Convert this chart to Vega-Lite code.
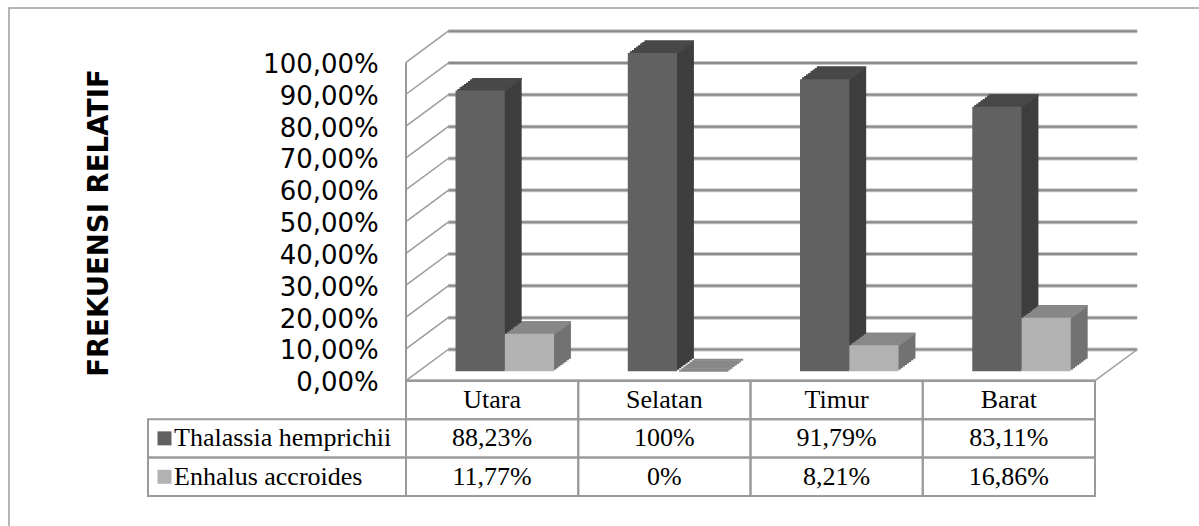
{
  "$schema": "https://vega.github.io/schema/vega-lite/v6.json",
  "width": 1190,
  "height": 518,
  "autosize": {"type": "none"},
  "padding": {"left": 9, "top": 8, "right": 0, "bottom": 0},
  "background": "#ffffff",
  "config": {
    "view": {"stroke": "#9d9d9d", "strokeWidth": 1.5, "strokeDash": [1190, 1708, 600]},
    "locale": {"number": {"decimal": ",", "thousands": ".", "grouping": [3], "currency": ["Rp", ""]}}
  },
  "datasets": {
    "frekuensi": [
      {"lokasi": "Utara", "spesies": "Thalassia hemprichii", "nilai": 0.8823},
      {"lokasi": "Selatan", "spesies": "Thalassia hemprichii", "nilai": 1.0},
      {"lokasi": "Timur", "spesies": "Thalassia hemprichii", "nilai": 0.9179},
      {"lokasi": "Barat", "spesies": "Thalassia hemprichii", "nilai": 0.8311},
      {"lokasi": "Utara", "spesies": "Enhalus accroides", "nilai": 0.1177},
      {"lokasi": "Selatan", "spesies": "Enhalus accroides", "nilai": 0.0},
      {"lokasi": "Timur", "spesies": "Enhalus accroides", "nilai": 0.0821},
      {"lokasi": "Barat", "spesies": "Enhalus accroides", "nilai": 0.1686}
    ],
    "skala": [
      {"v": 0}, {"v": 0.1}, {"v": 0.2}, {"v": 0.3}, {"v": 0.4}, {"v": 0.5},
      {"v": 0.6}, {"v": 0.7}, {"v": 0.8}, {"v": 0.9}, {"v": 1}
    ]
  },
  "data": {"name": "frekuensi"},
  "layer": [
    {
      "data": {"name": "skala"},
      "layer": [
        {
          "mark": {"type": "rule", "color": "#c6c6c6", "strokeWidth": 4, "xOffset": 42.2, "x2Offset": 42.2, "yOffset": -31.2},
          "encoding": {
            "x": {"datum": 0, "type": "quantitative", "scale": {"domain": [0, 1], "range": [397, 1086]}, "axis": null},
            "x2": {"datum": 1},
            "y": {
              "field": "v", "type": "quantitative",
              "scale": {"domain": [0, 1], "range": [372.7, 54.4]},
              "axis": {
                "orient": "left",
                "values": [0, 0.1, 0.2, 0.3, 0.4, 0.5, 0.6, 0.7, 0.8, 0.9, 1],
                "format": ".2%",
                "domain": false, "ticks": false, "tickSize": 0, "grid": false,
                "labelPadding": 0, "offset": -369.3,
                "labelFont": "DejaVu Sans", "labelFontSize": 26, "labelColor": "#000000",
                "labelOffset": 2, "labelOverlap": false, "labelBound": false, "labelFlush": false,
                "title": "FREKUENSI RELATIF",
                "titleFont": "DejaVu Sans", "titleFontSize": 27.5, "titleFontWeight": "bold", "titleColor": "#000000",
                "titleAngle": 270, "titleAlign": "center", "titleBaseline": "middle",
                "titleX": -279.3, "titleY": 214.5
              }
            }
          }
        },
        {
          "mark": {"type": "rule", "color": "#8a8a8a", "strokeWidth": 2, "xOffset": 42.2, "x2Offset": 42.2, "yOffset": -31.2},
          "encoding": {
            "x": {"datum": 0, "type": "quantitative", "scale": {"domain": [0, 1], "range": [397, 1086]}, "axis": null},
            "x2": {"datum": 1},
            "y": {"field": "v", "type": "quantitative", "scale": {"domain": [0, 1], "range": [372.7, 54.4]}}
          }
        },
        {
          "mark": {"type": "rule", "color": "#9c9c9c", "strokeWidth": 1.5, "x2Offset": 42.2, "y2Offset": -31.2},
          "encoding": {
            "x": {"datum": 0, "type": "quantitative", "scale": {"domain": [0, 1], "range": [397, 1086]}, "axis": null},
            "x2": {"datum": 0},
            "y": {"field": "v", "type": "quantitative", "scale": {"domain": [0, 1], "range": [372.7, 54.4]}},
            "y2": {"field": "v"}
          }
        },
        {
          "data": {"values": [{}]},
          "mark": {"type": "rule", "color": "#999999", "strokeWidth": 2},
          "encoding": {
            "x": {"datum": 0, "type": "quantitative", "scale": {"domain": [0, 1], "range": [397, 1086]}, "axis": null},
            "y": {"datum": 0, "type": "quantitative", "scale": {"domain": [0, 1], "range": [372.7, 54.4]}},
            "y2": {"datum": 1}
          }
        },
        {
          "data": {"values": [{}]},
          "mark": {"type": "rule", "color": "#949494", "strokeWidth": 2.5},
          "encoding": {
            "x": {"datum": 0, "type": "quantitative", "scale": {"domain": [0, 1], "range": [397, 1086]}, "axis": null},
            "x2": {"datum": 1},
            "y": {"datum": 0, "type": "quantitative", "scale": {"domain": [0, 1], "range": [372.7, 54.4]}}
          }
        },
        {
          "data": {"values": [{}]},
          "mark": {"type": "rule", "color": "#9c9c9c", "strokeWidth": 1.5, "x2Offset": 42.2, "y2Offset": -31.2},
          "encoding": {
            "x": {"datum": 1, "type": "quantitative", "scale": {"domain": [0, 1], "range": [397, 1086]}, "axis": null},
            "x2": {"datum": 1},
            "y": {"datum": 0, "type": "quantitative", "scale": {"domain": [0, 1], "range": [372.7, 54.4]}},
            "y2": {"datum": 0}
          }
        }
      ]
    },
    {
      "encoding": {
        "x": {
          "field": "lokasi", "type": "nominal",
          "scale": {"domain": ["Utara", "Selatan", "Timur", "Barat"], "range": [397, 1086], "paddingInner": 0.714, "paddingOuter": 0.357},
          "axis": null
        },
        "y": {"field": "nilai", "type": "quantitative", "scale": {"domain": [0, 1], "range": [372.7, 54.4]}, "axis": null}
      },
      "layer": [
        {
          "transform": [{"filter": "datum.spesies === 'Thalassia hemprichii'"}],
          "layer": [
            {"mark": {"type": "bar", "color": "#3e3e3e", "xOffset": 4.91, "yOffset": -21.91, "y2Offset": -21.91}},
            {"mark": {"type": "bar", "color": "#3e3e3e", "xOffset": 2.8, "yOffset": -20.345, "y2Offset": -20.345}},
            {"mark": {"type": "bar", "color": "#3e3e3e", "xOffset": 0.69, "yOffset": -18.78, "y2Offset": -18.78}},
            {"mark": {"type": "bar", "color": "#3e3e3e", "xOffset": -1.42, "yOffset": -17.215, "y2Offset": -17.215}},
            {"mark": {"type": "bar", "color": "#3e3e3e", "xOffset": -3.53, "yOffset": -15.65, "y2Offset": -15.65}},
            {"mark": {"type": "bar", "color": "#3e3e3e", "xOffset": -5.64, "yOffset": -14.085, "y2Offset": -14.085}},
            {"mark": {"type": "bar", "color": "#3e3e3e", "xOffset": -7.75, "yOffset": -12.52, "y2Offset": -12.52}},
            {"mark": {"type": "bar", "color": "#3e3e3e", "xOffset": -9.86, "yOffset": -10.955, "y2Offset": -10.955}},
            {"mark": {"type": "bar", "color": "#484848", "xOffset": 4.91, "yOffset": -21.91, "y2Offset": -19.845}, "encoding": {"y2": {"field": "nilai"}}},
            {"mark": {"type": "bar", "color": "#484848", "xOffset": 2.8, "yOffset": -20.345, "y2Offset": -18.28}, "encoding": {"y2": {"field": "nilai"}}},
            {"mark": {"type": "bar", "color": "#484848", "xOffset": 0.69, "yOffset": -18.78, "y2Offset": -16.715}, "encoding": {"y2": {"field": "nilai"}}},
            {"mark": {"type": "bar", "color": "#484848", "xOffset": -1.42, "yOffset": -17.215, "y2Offset": -15.15}, "encoding": {"y2": {"field": "nilai"}}},
            {"mark": {"type": "bar", "color": "#484848", "xOffset": -3.53, "yOffset": -15.65, "y2Offset": -13.585}, "encoding": {"y2": {"field": "nilai"}}},
            {"mark": {"type": "bar", "color": "#484848", "xOffset": -5.64, "yOffset": -14.085, "y2Offset": -12.02}, "encoding": {"y2": {"field": "nilai"}}},
            {"mark": {"type": "bar", "color": "#484848", "xOffset": -7.75, "yOffset": -12.52, "y2Offset": -10.455}, "encoding": {"y2": {"field": "nilai"}}},
            {"mark": {"type": "bar", "color": "#484848", "xOffset": -9.86, "yOffset": -10.955, "y2Offset": -8.89}, "encoding": {"y2": {"field": "nilai"}}}
          ]
        },
        {
          "transform": [{"filter": "datum.spesies === 'Enhalus accroides'"}],
          "layer": [
            {"mark": {"type": "bar", "color": "#727272", "xOffset": 54.17, "yOffset": -21.91, "y2Offset": -21.91}},
            {"mark": {"type": "bar", "color": "#727272", "xOffset": 52.06, "yOffset": -20.345, "y2Offset": -20.345}},
            {"mark": {"type": "bar", "color": "#727272", "xOffset": 49.95, "yOffset": -18.78, "y2Offset": -18.78}},
            {"mark": {"type": "bar", "color": "#727272", "xOffset": 47.84, "yOffset": -17.215, "y2Offset": -17.215}},
            {"mark": {"type": "bar", "color": "#727272", "xOffset": 45.73, "yOffset": -15.65, "y2Offset": -15.65}},
            {"mark": {"type": "bar", "color": "#727272", "xOffset": 43.62, "yOffset": -14.085, "y2Offset": -14.085}},
            {"mark": {"type": "bar", "color": "#727272", "xOffset": 41.51, "yOffset": -12.52, "y2Offset": -12.52}},
            {"mark": {"type": "bar", "color": "#727272", "xOffset": 39.4, "yOffset": -10.955, "y2Offset": -10.955}},
            {"mark": {"type": "bar", "color": "#888888", "xOffset": 54.17, "yOffset": -21.91, "y2Offset": -19.845}, "encoding": {"y2": {"field": "nilai"}}},
            {"mark": {"type": "bar", "color": "#888888", "xOffset": 52.06, "yOffset": -20.345, "y2Offset": -18.28}, "encoding": {"y2": {"field": "nilai"}}},
            {"mark": {"type": "bar", "color": "#888888", "xOffset": 49.95, "yOffset": -18.78, "y2Offset": -16.715}, "encoding": {"y2": {"field": "nilai"}}},
            {"mark": {"type": "bar", "color": "#888888", "xOffset": 47.84, "yOffset": -17.215, "y2Offset": -15.15}, "encoding": {"y2": {"field": "nilai"}}},
            {"mark": {"type": "bar", "color": "#888888", "xOffset": 45.73, "yOffset": -15.65, "y2Offset": -13.585}, "encoding": {"y2": {"field": "nilai"}}},
            {"mark": {"type": "bar", "color": "#888888", "xOffset": 43.62, "yOffset": -14.085, "y2Offset": -12.02}, "encoding": {"y2": {"field": "nilai"}}},
            {"mark": {"type": "bar", "color": "#888888", "xOffset": 41.51, "yOffset": -12.52, "y2Offset": -10.455}, "encoding": {"y2": {"field": "nilai"}}},
            {"mark": {"type": "bar", "color": "#888888", "xOffset": 39.4, "yOffset": -10.955, "y2Offset": -8.89}, "encoding": {"y2": {"field": "nilai"}}}
          ]
        },
        {
          "transform": [{"filter": "datum.spesies === 'Thalassia hemprichii'"}],
          "mark": {"type": "bar", "color": "#616161", "xOffset": -11.97, "yOffset": -9.39, "y2Offset": -9.39}
        },
        {
          "transform": [{"filter": "datum.spesies === 'Enhalus accroides'"}],
          "mark": {"type": "bar", "color": "#b2b2b2", "xOffset": 37.29, "yOffset": -9.39, "y2Offset": -9.39}
        }
      ]
    },
    {
      "layer": [
        {
          "encoding": {
            "x": {
              "field": "lokasi", "type": "nominal",
              "scale": {"domain": ["Utara", "Selatan", "Timur", "Barat"], "range": [397, 1086], "paddingInner": 0, "paddingOuter": 0},
              "axis": null
            }
          },
          "layer": [
            {
              "mark": {"type": "rect", "filled": false, "color": "#9a9a9a", "strokeWidth": 2},
              "encoding": {
                "y": {"field": "spesies", "type": "nominal", "scale": {"domain": ["Lokasi", "Thalassia hemprichii", "Enhalus accroides"], "range": [372.7, 488], "paddingInner": 0, "paddingOuter": 0}, "axis": null}
              }
            },
            {
              "transform": [{"filter": "datum.spesies === 'Thalassia hemprichii'"}],
              "mark": {"type": "rect", "filled": false, "color": "#9a9a9a", "strokeWidth": 2},
              "encoding": {
                "y": {"datum": "Lokasi", "type": "nominal", "scale": {"domain": ["Lokasi", "Thalassia hemprichii", "Enhalus accroides"], "range": [372.7, 488], "paddingInner": 0, "paddingOuter": 0}, "axis": null}
              }
            },
            {
              "mark": {"type": "text", "font": "Liberation Serif, Times New Roman, serif", "fontSize": 26, "color": "#000000", "baseline": "middle"},
              "encoding": {
                "y": {"field": "spesies", "type": "nominal", "scale": {"domain": ["Lokasi", "Thalassia hemprichii", "Enhalus accroides"], "range": [372.7, 488], "paddingInner": 0, "paddingOuter": 0}, "axis": null},
                "text": {"field": "nilai", "type": "quantitative", "format": ".2~%"}
              }
            },
            {
              "transform": [{"filter": "datum.spesies === 'Thalassia hemprichii'"}],
              "mark": {"type": "text", "font": "Liberation Serif, Times New Roman, serif", "fontSize": 26, "color": "#000000", "baseline": "middle"},
              "encoding": {
                "y": {"datum": "Lokasi", "type": "nominal", "scale": {"domain": ["Lokasi", "Thalassia hemprichii", "Enhalus accroides"], "range": [372.7, 488], "paddingInner": 0, "paddingOuter": 0}, "axis": null},
                "text": {"field": "lokasi", "type": "nominal"}
              }
            }
          ]
        },
        {
          "transform": [{"filter": "datum.lokasi === 'Utara'"}],
          "encoding": {
            "x": {"datum": 0, "type": "quantitative", "scale": {"domain": [0, 1], "range": [139, 397]}, "axis": null},
            "y": {"field": "spesies", "type": "nominal", "scale": {"domain": ["Lokasi", "Thalassia hemprichii", "Enhalus accroides"], "range": [372.7, 488], "paddingInner": 0, "paddingOuter": 0}, "axis": null}
          },
          "layer": [
            {
              "mark": {"type": "rect", "filled": false, "color": "#9a9a9a", "strokeWidth": 2},
              "encoding": {"x2": {"datum": 1}}
            },
            {
              "mark": {"type": "point", "shape": "square", "size": 196, "filled": true, "opacity": 1, "strokeWidth": 0, "xOffset": 16.5},
              "encoding": {
                "color": {"field": "spesies", "type": "nominal", "scale": {"domain": ["Thalassia hemprichii", "Enhalus accroides"], "range": ["#616161", "#b2b2b2"]}, "legend": null}
              }
            },
            {
              "mark": {"type": "text", "align": "left", "dx": 26, "font": "Liberation Serif, Times New Roman, serif", "fontSize": 26, "color": "#000000", "baseline": "middle"},
              "encoding": {"text": {"field": "spesies", "type": "nominal"}}
            }
          ]
        }
      ],
      "resolve": {"scale": {"x": "independent"}}
    }
  ],
  "resolve": {"scale": {"x": "independent", "y": "independent"}}
}
